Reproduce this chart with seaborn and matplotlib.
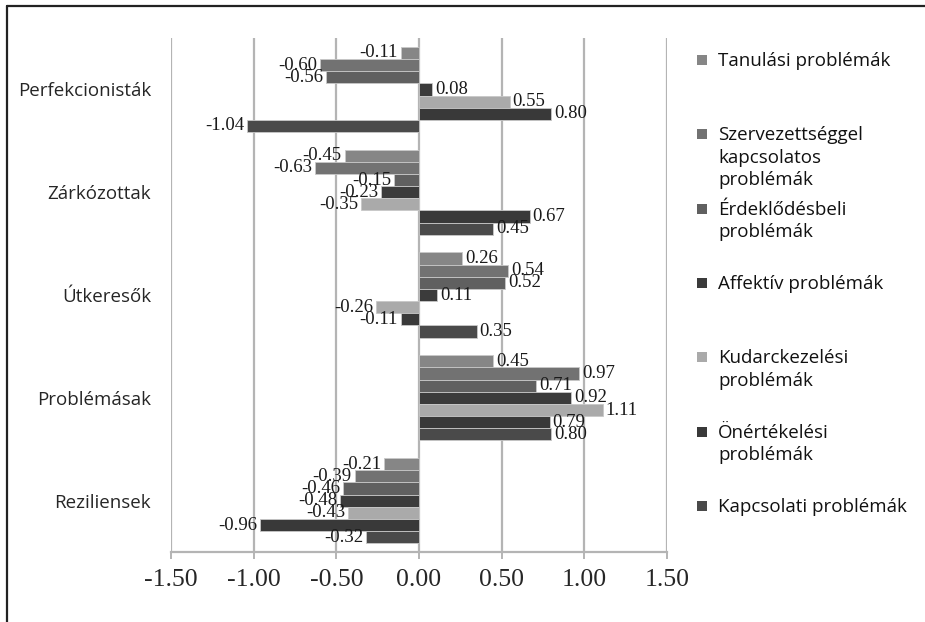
import pandas as pd
import numpy as np
import matplotlib
matplotlib.use("Agg")
import matplotlib.pyplot as plt
import seaborn as sns
from matplotlib.lines import Line2D
from matplotlib.patches import Rectangle

# categories (top to bottom) and series (top to bottom within each group)
categories = ["Perfekcionisták", "Zárkózottak", "Útkeresők", "Problémásak", "Reziliensek"]
series = ["Tanulási problémák",
          "Szervezettséggel\nkapcsolatos\nproblémák",
          "Érdeklődésbeli\nproblémák",
          "Affektív problémák",
          "Kudarckezelési\nproblémák",
          "Önértékelési\nproblémák",
          "Kapcsolati problémák"]
colors = ["#868686", "#727272", "#606060", "#3b3b3b", "#aaaaaa", "#393939", "#4a4a4a"]

tanulasi = [-0.11, -0.45, 0.26, 0.45, -0.21]
szervezettseg = [-0.60, -0.63, 0.54, 0.97, -0.39]
erdeklodes = [-0.56, -0.15, 0.52, 0.71, -0.46]
affektiv = [0.08, -0.23, 0.11, 0.92, -0.48]
kudarckezeles = [0.55, -0.35, -0.26, 1.11, -0.43]
onertekeles = [0.80, 0.67, -0.11, 0.79, -0.96]
kapcsolati = [-1.04, 0.45, 0.35, 0.80, -0.32]

xticks = [-1.5, -1.0, -0.5, 0.0, 0.5, 1.0, 1.5]

values = [tanulasi, szervezettseg, erdeklodes, affektiv, kudarckezeles, onertekeles, kapcsolati]
rows = []
for s, vals in zip(series, values):
    for c, v in zip(categories, vals):
        rows.append({"category": c, "series": s, "value": v})
df = pd.DataFrame(rows)

sns.set_style("white")
plt.rcParams["font.family"] = ["Open Sans", "DejaVu Sans"]

fig = plt.figure(figsize=(9.25, 6.22), dpi=100)
ax = fig.add_axes([0.1849, 0.1125, 0.5362, 0.8264])

sns.barplot(data=df, x="value", y="category", hue="series", order=categories,
            hue_order=series, palette=colors, orient="h", width=0.83, gap=0,
            edgecolor="#c8c8c8", linewidth=0.6, legend=False, ax=ax, zorder=3)

for cont in ax.containers:
    ax.bar_label(cont, fmt="%.2f", padding=2, fontsize=13.5,
                 family="Liberation Serif", color="#1a1a1a", zorder=5)

ax.set_xlim(-1.5, 1.5)
ax.set_ylim(4.5, -0.5)
ax.set_xticks(xticks)
ax.set_xticklabels([f"{t:.2f}" for t in xticks], family="Liberation Serif", fontsize=18.5)
ax.xaxis.grid(True, color="#b4b4b4", linewidth=1.6, zorder=0)
ax.yaxis.grid(False)
ax.set_xlabel("")
ax.set_ylabel("")
ax.tick_params(axis="x", bottom=True, length=5, width=1.4, color="#b4b4b4", pad=7)
ax.tick_params(axis="y", left=False, labelsize=13.5, pad=11)
for side in ["top", "right", "left"]:
    ax.spines[side].set_visible(False)
ax.spines["bottom"].set_color("#b4b4b4")
ax.spines["bottom"].set_linewidth(1.6)

# legend drawn at the right, evenly spaced, marker aligned with the first line
W, H = 925, 622
y0, step = 60, 74.3
for i, (s, col) in enumerate(zip(series, colors)):
    yc = y0 + i * step
    fig.add_artist(Rectangle((697 / W, 1 - (yc + 5) / H), 10 / W, 10 / H,
                             transform=fig.transFigure, facecolor=col, edgecolor="none"))
    fig.text(718 / W, 1 - (yc - 8) / H, s, fontsize=13.5, va="top", ha="left",
             color="#111111", linespacing=1.32)

# frame (top and left edges)
fig.add_artist(Line2D([7 / W, 1.0], [1 - 6 / H, 1 - 6 / H], transform=fig.transFigure,
                      color="#222222", linewidth=1.6))
fig.add_artist(Line2D([7 / W, 7 / W], [0.0, 1 - 6 / H], transform=fig.transFigure,
                      color="#222222", linewidth=1.6))

fig.savefig("out.png", dpi=100, facecolor="white")
